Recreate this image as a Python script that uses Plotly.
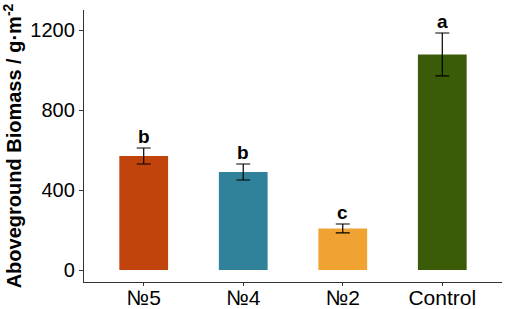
import plotly.graph_objects as go

groups = ["№5", "№4", "№2", "Control"]
biomass = [570, 490, 208, 1078]
se = [40, 40, 22, 107]
letters = ["b", "b", "c", "a"]
colors = ["#C0440C", "#2F8299", "#F0A333", "#3A5C08"]

fig = go.Figure()
fig.add_trace(go.Bar(
    x=groups, y=biomass, width=0.49,
    marker=dict(color=colors, line=dict(width=0)),
    error_y=dict(type="data", array=se, color="black", thickness=1.2, width=7),
))

for g, v, e, t in zip(groups, biomass, se, letters):
    fig.add_annotation(x=g, y=v + e, text="<b>" + t + "</b>", showarrow=False,
                       yanchor="bottom", yshift=-1,
                       font=dict(size=19, color="black", family="Liberation Sans"))

fig.update_layout(
    width=505, height=309,
    margin=dict(l=84, r=3, t=10, b=27),
    plot_bgcolor="white", paper_bgcolor="white",
    font=dict(family="Liberation Sans", color="black"),
    showlegend=False,
)
fig.update_xaxes(range=[-0.6, 3.6], showline=True, linecolor="#333333", linewidth=1.3,
                 ticks="outside", ticklen=3, tickcolor="#333333", automargin=False,
                 ticklabelstandoff=-6,
                 tickfont=dict(size=21, color="black"), showgrid=False)
fig.update_yaxes(range=[-60, 1300], tickvals=[0, 400, 800, 1200], showline=True,
                 linecolor="#333333", linewidth=1.3, ticks="outside", ticklen=4,
                 tickcolor="#333333", tickfont=dict(size=20, color="black"),
                 showgrid=False, zeroline=False, automargin=False,
                 title=dict(text="<b>Aboveground Biomass / g·m<sup>-2</sup></b>",
                            font=dict(size=20), standoff=4))

# drop the page's default body margin so the figure sits at the window corner
fig.write_html("out.html", config={"displayModeBar": False},
               post_script="document.body.style.margin='0';")
